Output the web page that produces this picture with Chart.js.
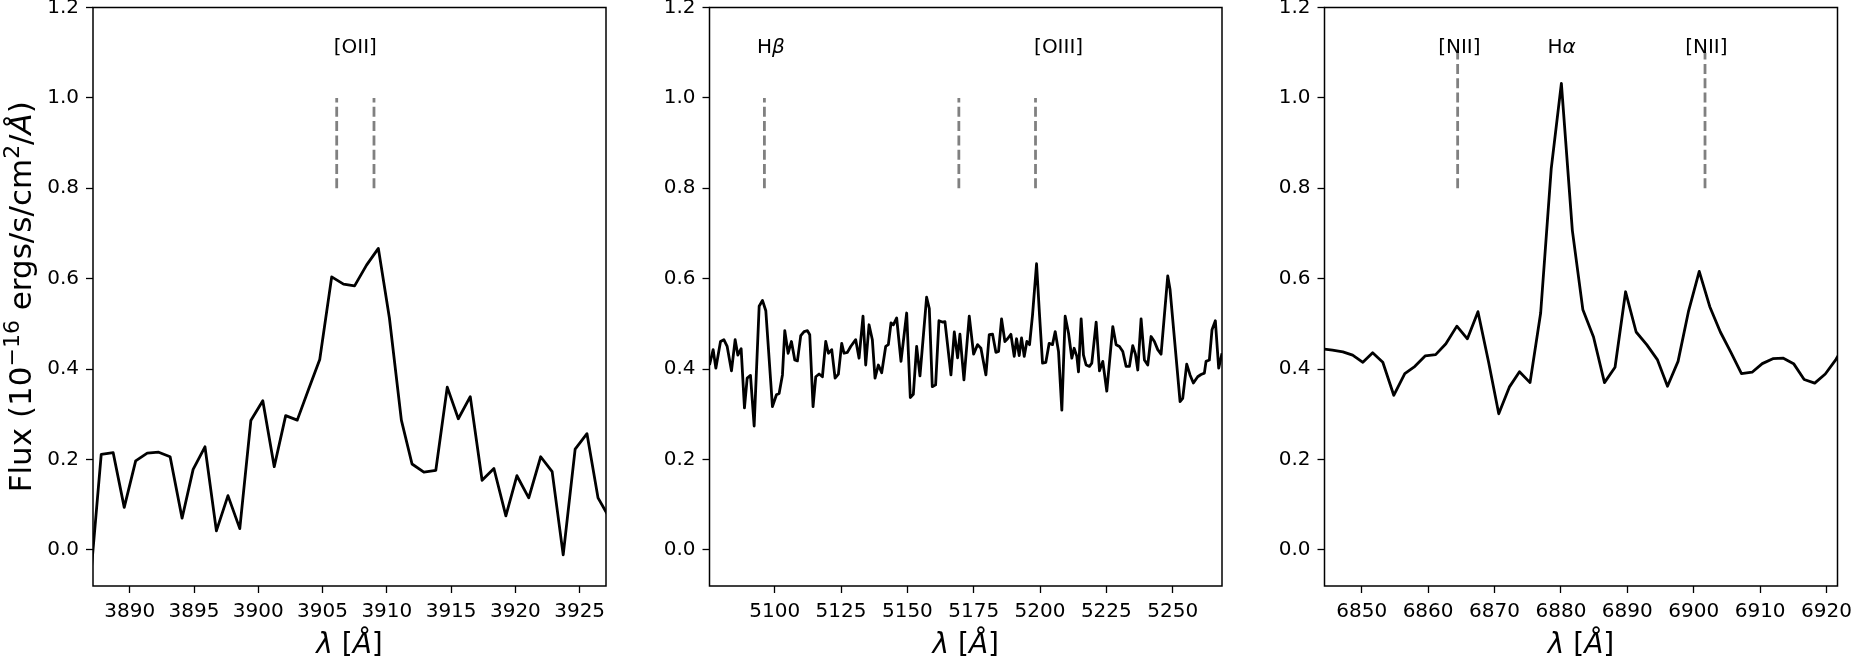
<!DOCTYPE html>
<html lang="en">
<head>
<meta charset="UTF-8">
<title>Emission line spectra</title>
<script src="https://cdn.jsdelivr.net/npm/chart.js"></script>
<style>
  body { margin: 0; background: #fff; }
  .wrap { position: relative; width: 1854px; height: 662px; overflow: hidden; background: #fff; }
  .wrap canvas { position: absolute; top: 0; }
</style>
</head>
<body>
<div class="wrap">
  <canvas id="c1" width="620" height="662" style="left:0px"></canvas>
  <canvas id="c2" width="616" height="662" style="left:620px"></canvas>
  <canvas id="c3" width="618" height="662" style="left:1236px"></canvas>
</div>
<script>
// ---- data ----
// panel 1: [OII] region
const wave1 = [3886.85, 3887.78, 3888.71, 3889.57, 3890.46, 3891.36, 3892.25, 3893.14, 3894.07, 3894.93,
  3895.85, 3896.74, 3897.64, 3898.56, 3899.42, 3900.35, 3901.24, 3902.13, 3903.03, 3903.92,
  3904.78, 3905.71, 3906.63, 3907.49, 3908.42, 3909.34, 3910.20, 3911.13, 3911.96, 3912.88,
  3913.81, 3914.70, 3915.56, 3916.49, 3917.41, 3918.33, 3919.26, 3920.12, 3921.04, 3921.97,
  3922.86, 3923.72, 3924.65, 3925.57, 3926.43, 3927.35];
const flux1 = [-0.096, 0.211, 0.215, 0.094, 0.197, 0.214, 0.216, 0.206, 0.070, 0.178,
  0.228, 0.042, 0.120, 0.047, 0.286, 0.330, 0.184, 0.297, 0.287, 0.356,
  0.421, 0.604, 0.588, 0.584, 0.630, 0.667, 0.513, 0.287, 0.190, 0.172,
  0.176, 0.360, 0.290, 0.339, 0.154, 0.180, 0.075, 0.164, 0.115, 0.206,
  0.173, -0.011, 0.223, 0.257, 0.115, 0.069];

// panel 2: Hbeta / [OIII] region
const wave2 = [5075.4, 5076.78, 5077.79, 5079.55, 5080.81, 5082.06, 5083.69, 5085.07, 5086.08, 5087.33,
  5088.58, 5089.60, 5090.85, 5092.23, 5094.12, 5095.37, 5096.63, 5099.13, 5100.64, 5101.64,
  5102.90, 5103.78, 5105.04, 5106.29, 5107.55, 5108.54, 5109.80, 5111.06, 5112.31, 5113.19,
  5114.44, 5115.46, 5116.71, 5117.96, 5119.22, 5120.22, 5121.48, 5122.74, 5123.99, 5125.24,
  5126.12, 5127.38, 5128.63, 5130.51, 5131.78, 5133.27, 5134.29, 5135.54, 5136.79, 5137.80,
  5139.05, 5140.31, 5141.82, 5142.82, 5143.82, 5144.70, 5145.96, 5147.59, 5149.73, 5151.10,
  5152.24, 5153.49, 5154.74, 5157.25, 5158.26, 5159.39, 5160.64, 5161.90, 5163.16, 5164.16,
  5166.42, 5167.68, 5168.93, 5169.81, 5171.32, 5173.32, 5174.96, 5176.46, 5177.72, 5179.60,
  5180.86, 5182.11, 5183.36, 5184.37, 5185.50, 5186.75, 5187.76, 5189.02, 5190.27, 5191.15,
  5192.15, 5193.03, 5194.04, 5195.04, 5196.05, 5197.18, 5198.69, 5199.81, 5200.94, 5202.19,
  5203.45, 5204.70, 5205.72, 5206.97, 5208.22, 5209.48, 5210.73, 5211.99, 5212.86, 5213.88,
  5214.50, 5215.50, 5216.38, 5217.38, 5218.64, 5219.52, 5221.16, 5222.41, 5223.66, 5225.17,
  5227.43, 5228.69, 5229.94, 5231.20, 5232.45, 5233.71, 5234.96, 5235.97, 5236.85, 5238.10,
  5239.36, 5240.61, 5241.87, 5243.12, 5244.38, 5245.63, 5248.15, 5249.02, 5252.79, 5253.79,
  5255.30, 5256.55, 5257.81, 5259.44, 5260.70, 5261.95, 5262.58, 5263.83, 5264.84, 5266.09,
  5267.35, 5268.6];
const flux2 = [0.409, 0.443, 0.402, 0.461, 0.465, 0.450, 0.396, 0.465, 0.431, 0.445,
  0.314, 0.380, 0.386, 0.274, 0.539, 0.552, 0.529, 0.317, 0.343, 0.346,
  0.387, 0.485, 0.435, 0.461, 0.420, 0.418, 0.474, 0.483, 0.485, 0.476,
  0.317, 0.383, 0.389, 0.383, 0.461, 0.435, 0.443, 0.380, 0.389, 0.457,
  0.435, 0.437, 0.450, 0.465, 0.424, 0.517, 0.409, 0.498, 0.465, 0.380,
  0.409, 0.392, 0.450, 0.454, 0.502, 0.498, 0.513, 0.417, 0.524, 0.337,
  0.344, 0.450, 0.385, 0.559, 0.534, 0.361, 0.365, 0.507, 0.504, 0.505,
  0.387, 0.482, 0.425, 0.477, 0.376, 0.517, 0.433, 0.454, 0.446, 0.387,
  0.476, 0.477, 0.437, 0.439, 0.511, 0.461, 0.467, 0.477, 0.428, 0.467,
  0.430, 0.469, 0.428, 0.461, 0.454, 0.520, 0.633, 0.520, 0.413, 0.415,
  0.457, 0.454, 0.483, 0.439, 0.309, 0.517, 0.480, 0.424, 0.446, 0.428,
  0.394, 0.511, 0.431, 0.409, 0.406, 0.413, 0.504, 0.396, 0.417, 0.351,
  0.494, 0.454, 0.450, 0.439, 0.406, 0.406, 0.452, 0.433, 0.398, 0.511,
  0.420, 0.409, 0.472, 0.461, 0.443, 0.433, 0.606, 0.576, 0.328, 0.335,
  0.411, 0.387, 0.369, 0.383, 0.388, 0.391, 0.417, 0.420, 0.487, 0.507,
  0.402, 0.435];

// panel 3: Halpha / [NII] region
const wave3 = [6844.4, 6845.6, 6847.17, 6848.64, 6850.18, 6851.65, 6853.18, 6854.83, 6856.49, 6858.02,
  6859.55, 6861.14, 6862.68, 6864.33, 6865.92, 6867.51, 6869.1, 6870.64, 6872.23, 6873.76,
  6875.35, 6876.95, 6878.54, 6880.07, 6881.72, 6883.31, 6884.91, 6886.56, 6888.15, 6889.74,
  6891.33, 6892.92, 6894.52, 6896.05, 6897.64, 6899.23, 6900.83, 6902.42, 6904.01, 6905.60,
  6907.19, 6908.79, 6910.32, 6911.91, 6913.50, 6915.04, 6916.63, 6918.22, 6919.81, 6921.4, 6923.0];
const flux3 = [0.444, 0.442, 0.438, 0.431, 0.415, 0.436, 0.415, 0.342, 0.390, 0.406,
  0.429, 0.432, 0.456, 0.495, 0.467, 0.527, 0.416, 0.301, 0.360, 0.394,
  0.370, 0.524, 0.843, 1.032, 0.707, 0.531, 0.471, 0.370, 0.404, 0.571,
  0.482, 0.454, 0.421, 0.362, 0.417, 0.529, 0.616, 0.538, 0.482, 0.437,
  0.390, 0.393, 0.412, 0.423, 0.424, 0.412, 0.377, 0.369, 0.389, 0.421, 0.46];

// axis limits and ticks
const xRange1 = [3887.14, 3927.05];
const xRange2 = [5075.4, 5268.6];
const xRange3 = [6844.4, 6921.65];
const xTicks1 = [3890, 3895, 3900, 3905, 3910, 3915, 3920, 3925];
const xTicks2 = [5100, 5125, 5150, 5175, 5200, 5225, 5250];
const xTicks3 = [6850, 6860, 6870, 6880, 6890, 6900, 6910, 6920];
const yTicks = [0.0, 0.2, 0.4, 0.6, 0.8, 1.0, 1.2];
const yRange = [-0.08, 1.2];

// line markers (dashed) and their labels
const markWave1 = [3906.1, 3909.0];
const markWave2 = [5096.1, 5169.4, 5198.3];
const markWave3 = [6864.45, 6901.7];
const markTop = [1.0, 1.0, 1.1];
const markBottom = 0.8;
const labelWave1 = [3907.55];
const labelText1 = ['[OII]'];
const labelWave2 = [5098.5, 5207.0];
const labelText2 = ['Hβ', '[OIII]'];
const labelWave3 = [6864.7, 6880.1, 6901.9];
const labelText3 = ['[NII]', 'Hα', '[NII]'];
const labelY = 1.1;

const FONT = "'DejaVu Sans', 'Liberation Sans', sans-serif";

// split a label into plain / italic greek parts, mathtext style
function labelParts(t) {
  if (t === 'Hβ') return [['H', ''], ['β', 'i']];
  if (t === 'Hα') return [['H', ''], ['α', 'i']];
  return [[t, '']];
}

function setFont(ctx, style, size) {
  if (style === 'sup') ctx.font = Math.round(size * 0.7) + 'px ' + FONT;
  else if (style === 'i') ctx.font = 'italic ' + size + 'px ' + FONT;
  else ctx.font = size + 'px ' + FONT;
}

// draw mixed-style text centred on x, baseline at y
function drawParts(ctx, parts, x, y, size) {
  let total = 0;
  parts.forEach(p => { setFont(ctx, p[1], size); total += ctx.measureText(p[0]).width; });
  let cx = x - total / 2;
  ctx.textAlign = 'left';
  ctx.textBaseline = 'alphabetic';
  parts.forEach(p => {
    setFont(ctx, p[1], size);
    const dy = p[1] === 'sup' ? -size * 0.38 : 0;
    ctx.fillText(p[0], cx, y + dy);
    cx += ctx.measureText(p[0]).width;
  });
}

const decor = {
  id: 'decor',
  afterDatasetsDraw(chart) {
    const a = chart.chartArea;
    const ctx = chart.ctx;
    ctx.save();
    ctx.strokeStyle = '#000';
    ctx.lineWidth = 1.5;
    ctx.strokeRect(a.left, a.top, a.right - a.left, a.bottom - a.top);
    ctx.restore();
  },
  afterDraw(chart, args, opts) {
    const ctx = chart.ctx;
    const a = chart.chartArea;
    const xs = chart.scales.x, ys = chart.scales.y;
    ctx.save();
    ctx.fillStyle = '#000';
    opts.waves.forEach((w, i) => {
      drawParts(ctx, labelParts(opts.texts[i]), xs.getPixelForValue(w), ys.getPixelForValue(labelY), 20);
    });
    // x axis title: lambda [Angstrom]
    drawParts(ctx, [['λ', 'i'], [' [', ''], ['Å', 'i'], [']', '']], (a.left + a.right) / 2, 653, 28);
    if (opts.yTitle) {
      ctx.translate(31, (a.top + a.bottom) / 2);
      ctx.rotate(-Math.PI / 2);
      drawParts(ctx, [['Flux (10', ''], ['\u221216', 'sup'], [' ergs/s/cm', ''], ['2', 'sup'],
        ['/', ''], ['Å', 'i'], [')', '']], 0, 0, 31);
    }
    ctx.restore();
  }
};

function makePanel(id, wave, flux, xRange, xTicks, marks, top, lWave, lText, yWidth, padRight, yTitle) {
  const datasets = [{
    data: wave.map((w, i) => ({ x: w, y: flux[i] })),
    showLine: true,
    borderColor: '#000',
    borderWidth: 2.8,
    borderJoinStyle: 'round',
    pointRadius: 0,
    clip: 0
  }];
  marks.forEach(m => {
    datasets.push({
      data: [{ x: m, y: markBottom }, { x: m, y: top }],
      showLine: true,
      borderColor: '#808080',
      borderWidth: 2.8,
      borderDash: [10, 4.3],
      pointRadius: 0
    });
  });

  const tickFont = { family: FONT, size: 20 };
  new Chart(document.getElementById(id), {
    type: 'scatter',
    data: { datasets: datasets },
    options: {
      responsive: false,
      animation: false,
      devicePixelRatio: 1,
      layout: { padding: { top: 7.5, right: padRight, left: 0, bottom: 0 } },
      plugins: {
        legend: { display: false },
        tooltip: { enabled: false },
        decor: { waves: lWave, texts: lText, yTitle: yTitle }
      },
      scales: {
        x: {
          type: 'linear',
          min: xRange[0],
          max: xRange[1],
          afterBuildTicks: s => { s.ticks = xTicks.map(v => ({ value: v })); },
          afterFit: s => { s.height = 76; s.paddingLeft = 0; s.paddingRight = 0; },
          grid: { drawOnChartArea: false, tickLength: 7, tickColor: '#000', tickWidth: 1.3 },
          border: { display: false },
          ticks: { font: tickFont, color: '#000', padding: 7, autoSkip: false, maxRotation: 0,
            callback: v => String(v) }
        },
        y: {
          type: 'linear',
          min: yRange[0],
          max: yRange[1],
          afterBuildTicks: s => { s.ticks = yTicks.map(v => ({ value: v })); },
          afterFit: s => { s.width = yWidth; s.paddingTop = 0; s.paddingBottom = 0; },
          grid: { drawOnChartArea: false, tickLength: 7, tickColor: '#000', tickWidth: 1.3 },
          border: { display: false },
          ticks: { font: tickFont, color: '#000', padding: 7, callback: v => v.toFixed(1) }
        }
      }
    },
    plugins: [decor]
  });
}

makePanel('c1', wave1, flux1, xRange1, xTicks1, markWave1, markTop[0], labelWave1, labelText1, 93, 14, true);
makePanel('c2', wave2, flux2, xRange2, xTicks2, markWave2, markTop[1], labelWave2, labelText2, 89.5, 14, false);
makePanel('c3', wave3, flux3, xRange3, xTicks3, markWave3, markTop[2], labelWave3, labelText3, 88.5, 16.5, false);
</script>
</body>
</html>
